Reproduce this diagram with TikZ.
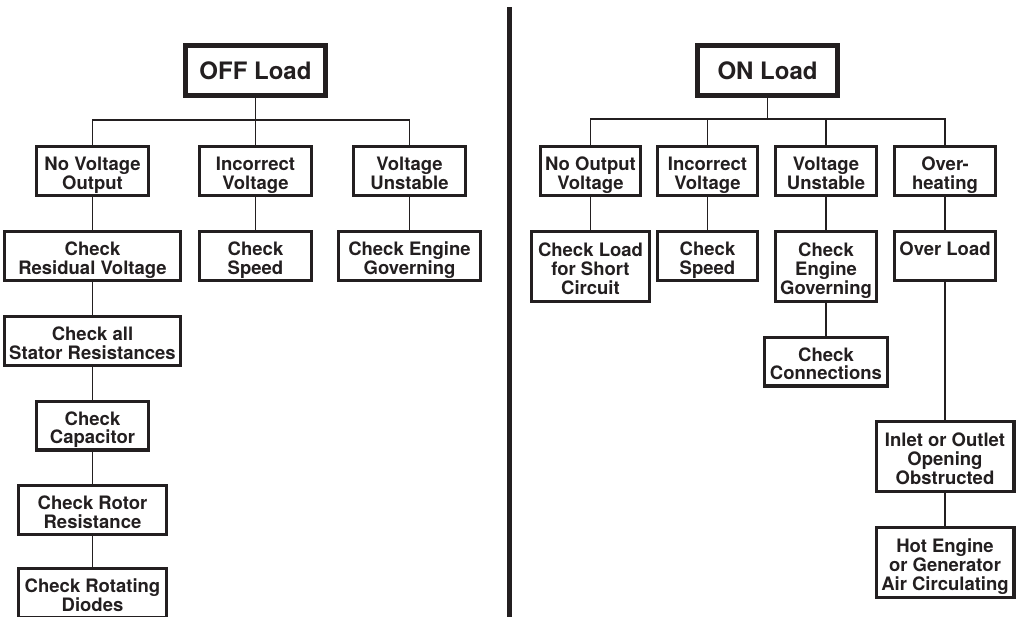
\documentclass[tikz,border=0pt]{standalone}
\usepackage{fontspec}
\setmainfont{TeX Gyre Heros}
\definecolor{inkblack}{RGB}{35, 31, 32}

\tikzset{
  frame/.style={draw=inkblack, align=center, inner sep=0pt, text=inkblack},
  box/.style={frame, line width=3.3pt, minimum height=48.7pt,
    font=\bfseries\fontsize{18.5}{18.7}\selectfont,
    text height=41.7pt, text depth=5pt},
  tallbox/.style={box, minimum height=69.7pt, text height=60.4pt},
  loadbox/.style={frame, line width=4.6pt, minimum width=140.4pt,
    minimum height=50.4pt, font=\bfseries\fontsize{24}{26}\selectfont},
  link/.style={draw=inkblack, line width=1.6pt}
}

\begin{document}
\begin{tikzpicture}[x=1pt, y=-1pt]
        \useasboundingbox (0,0) rectangle (1020,616);

        % left tree
        \node[loadbox] (off) at (255.5,70.5) {OFF Load};
        \coordinate (offbar) at (255.5,120);

        \node[box, minimum width=111.7pt] (nvo) at (92.5,171) {No Voltage\\Output};
        \node[box, minimum width=111.7pt] (iv) at (255.5,171) {Incorrect\\Voltage};
        \node[box, minimum width=111.7pt] (vu) at (409.5,171) {Voltage\\Unstable};

        \node[box, minimum width=175.7pt] (crv) at (92.5,256) {Check\\Residual Voltage};
        \node[box, minimum width=111.7pt] (cs) at (255.5,256) {Check\\Speed};
        \node[box, minimum width=141.7pt] (ceg) at (409.5,256) {Check Engine\\Governing};

        \node[box, minimum width=175.7pt] (csr) at (92.5,341) {Check all\\Stator Resistances};
        \node[box, minimum width=111.7pt] (cc) at (92.5,425.5) {Check\\Capacitor};
        \node[box, minimum width=147.7pt] (crr) at (92.5,510) {Check Rotor\\Resistance};
        \node[box, minimum width=147.7pt] (crd) at (92.5,593) {Check Rotating\\Diodes};

        \draw[link] (off) -- (offbar);
        \draw[link] (nvo.north) |- (offbar);
        \draw[link] (vu.north) |- (offbar);
        \draw[link] (iv) -- (offbar);
        \draw[link] (nvo) -- (crv);
        \draw[link] (iv) -- (cs);
        \draw[link] (vu) -- (ceg);
        \draw[link] (crv) -- (csr);
        \draw[link] (csr) -- (cc);
        \draw[link] (cc) -- (crr);
        \draw[link] (crr) -- (crd);

        % divider
        \draw[inkblack, line width=4.5pt] (509.5,7) -- (509.5,622);

        % right tree
        \node[loadbox] (on) at (767.5,70.5) {ON Load};
        \coordinate (onbar) at (767.5,119);

        \node[box, minimum width=99.7pt] (nov) at (590.5,171) {No Output\\Voltage};
        \node[box, minimum width=99.7pt] (ivr) at (707.5,171) {Incorrect\\Voltage};
        \node[box, minimum width=100.7pt] (vur) at (826,171) {Voltage\\Unstable};
        \node[box, minimum width=100.7pt] (oh) at (945,171) {Over-\\heating};

        \node[tallbox, minimum width=117.7pt] (cls) at (590.5,266.5) {Check Load\\for Short\\Circuit};
        \node[box, minimum width=99.7pt] (csr2) at (707.5,256) {Check\\Speed};
        \node[tallbox, minimum width=100.7pt] (cegr) at (826,266.5) {Check\\Engine\\Governing};
        \node[box, minimum width=100.7pt] (ol) at (945,256) {Over Load\\\mbox{}};

        \node[box, minimum width=122.7pt] (ccn) at (826,361.5) {Check\\Connections};
        \node[tallbox, minimum width=137.7pt] (ioo) at (945,456.5) {Inlet or Outlet\\Opening\\Obstructed};
        \node[tallbox, minimum width=137.7pt] (hot) at (945,562.5) {Hot Engine\\or Generator\\Air Circulating};

        \draw[link] (on) -- (onbar);
        \draw[link] (nov.north) |- (onbar);
        \draw[link] (ivr.north) |- (onbar);
        \draw[link] (vur.north) |- (onbar);
        \draw[link] (oh.north) |- (onbar);
        \draw[link] (nov) -- (cls);
        \draw[link] (ivr) -- (csr2);
        \draw[link] (vur) -- (cegr);
        \draw[link] (cegr) -- (ccn);
        \draw[link] (oh) -- (ol);
        \draw[link] (ol) -- (ioo);
        \draw[link] (ioo) -- (hot);
      \end{tikzpicture}
\end{document}
